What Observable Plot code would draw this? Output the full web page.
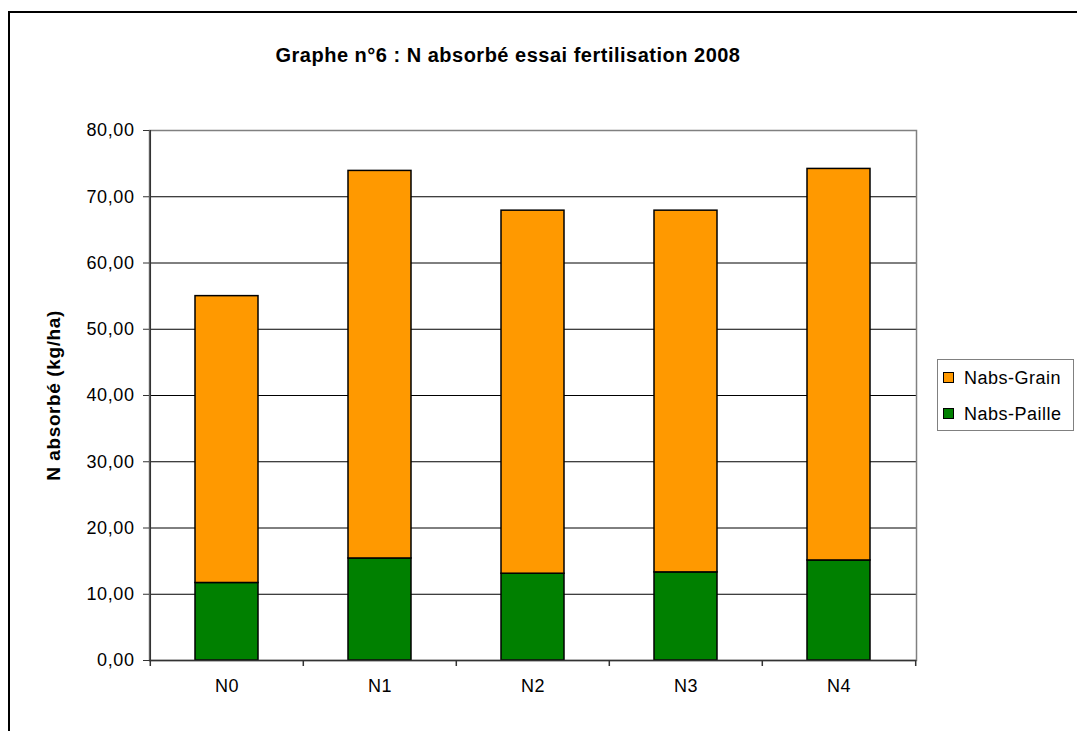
<!DOCTYPE html>
<html>
<head>
<meta charset="utf-8">
<script src="https://cdn.jsdelivr.net/npm/d3@7"></script>
<script src="https://cdn.jsdelivr.net/npm/@observablehq/plot@0.6"></script>
<style>
  html, body { margin: 0; padding: 0; background: #fff; }
  #wrap { position: relative; width: 1077px; height: 731px; overflow: hidden; font-family: "Liberation Sans", Arial, sans-serif; color: #000; }
  #border { position: absolute; left: 8px; top: 11px; width: 3000px; height: 3000px; border-left: 2px solid #000; border-top: 2px solid #000; pointer-events: none; }
  #title { position: absolute; left: 0; width: 1016px; top: 44px; text-align: center; font-weight: bold; font-size: 20px; line-height: 22px; letter-spacing: 0.5px; }
  #legend { position: absolute; left: 937px; top: 359px; width: 137px; height: 72px; box-sizing: border-box; border: 1px solid #808080; background: #fff; }
  .item { position: absolute; left: 5px; height: 20px; }
  .sw { position: absolute; left: 0; top: 4px; width: 11px; height: 11px; box-sizing: border-box; border: 1px solid #000; }
  .lab { position: absolute; left: 21px; top: 0; font-size: 18px; line-height: 20px; letter-spacing: 0.5px; white-space: nowrap; }
  #chart { position: absolute; left: 0; top: 0; }
</style>
</head>
<body>
<div id="wrap">
  <div id="border"></div>
  <div id="chart"></div>
  <div id="title"></div>
  <div id="legend"></div>
</div>
<script>
const title = "Graphe n°6 : N absorbé essai fertilisation 2008";
const yLabel = "N absorbé (kg/ha)";
const categories = ["N0", "N1", "N2", "N3", "N4"];
const seriesNames = ["Nabs-Paille", "Nabs-Grain"];
const seriesColors = ["#008000", "#FF9900"];
const paille = [11.7, 15.4, 13.1, 13.3, 15.1];
const grain = [43.3, 58.5, 54.8, 54.6, 59.1];
const yTicks = [0, 10, 20, 30, 40, 50, 60, 70, 80];

const rows = [];
categories.forEach((c, i) => {
  rows.push({cat: c, series: seriesNames[0], value: paille[i]});
  rows.push({cat: c, series: seriesNames[1], value: grain[i]});
});

const W = 1077, H = 731, mL = 149, mR = 161, mT = 130, mB = 71;
const step = (W - mL - mR) / categories.length;
const fmt = d => d.toFixed(2).replace(".", ",");

const plot = Plot.plot({
  width: W, height: H,
  marginLeft: mL, marginRight: mR, marginTop: mT, marginBottom: mB,
  style: "font-family: 'Liberation Sans', Arial, sans-serif; font-size: 18px; letter-spacing: 0.6px; color: #000; background: transparent;",
  x: {domain: categories, paddingInner: 0.59, paddingOuter: 0.295, axis: null},
  y: {domain: [0, 80], axis: null},
  color: {domain: seriesNames, range: seriesColors},
  marks: [
    Plot.ruleY(yTicks.filter(t => t > 0 && t < 80), {stroke: "#000", strokeWidth: 1}),
    Plot.frame({stroke: "#808080", strokeWidth: 1.5}),
    Plot.barY(rows, {x: "cat", y: "value", fill: "series", stroke: "#000", strokeWidth: 1.5, order: seriesNames}),
    Plot.ruleY([0], {stroke: "#333", strokeWidth: 1.5}),
    Plot.ruleX([categories[0]], {dx: -step / 2, stroke: "#333", strokeWidth: 1.5}),
    Plot.axisY({ticks: yTicks, tickFormat: fmt, tickSize: 6, tickPadding: 9, fontSize: 18, label: null, stroke: "#333"}),
    Plot.axisX({tickSize: 0, tickPadding: 19, fontSize: 18, label: null}),
    Plot.ruleX(categories, {x: d => d, y1: 0, y2: 0, insetBottom: -6, dx: -step / 2, stroke: "#333", strokeWidth: 1.5}),
    Plot.ruleX([categories[categories.length - 1]], {x: d => d, y1: 0, y2: 0, insetBottom: -6, dx: step / 2, stroke: "#333", strokeWidth: 1.5}),
    Plot.text([yLabel], {text: d => d, frameAnchor: "left", textAnchor: "middle", dx: -96, rotate: -90, fontWeight: "bold", fontSize: 19, fill: "#000"})
  ]
});
document.getElementById("chart").appendChild(plot);

document.getElementById("title").textContent = title;

const legend = document.getElementById("legend");
const legendOrder = [1, 0];
legendOrder.forEach((si, k) => {
  const item = document.createElement("div");
  item.className = "item";
  item.style.top = (8 + k * 36) + "px";
  const sw = document.createElement("div");
  sw.className = "sw";
  sw.style.background = seriesColors[si];
  const lab = document.createElement("div");
  lab.className = "lab";
  lab.textContent = seriesNames[si];
  item.appendChild(sw); item.appendChild(lab);
  legend.appendChild(item);
});
</script>
</body>
</html>
